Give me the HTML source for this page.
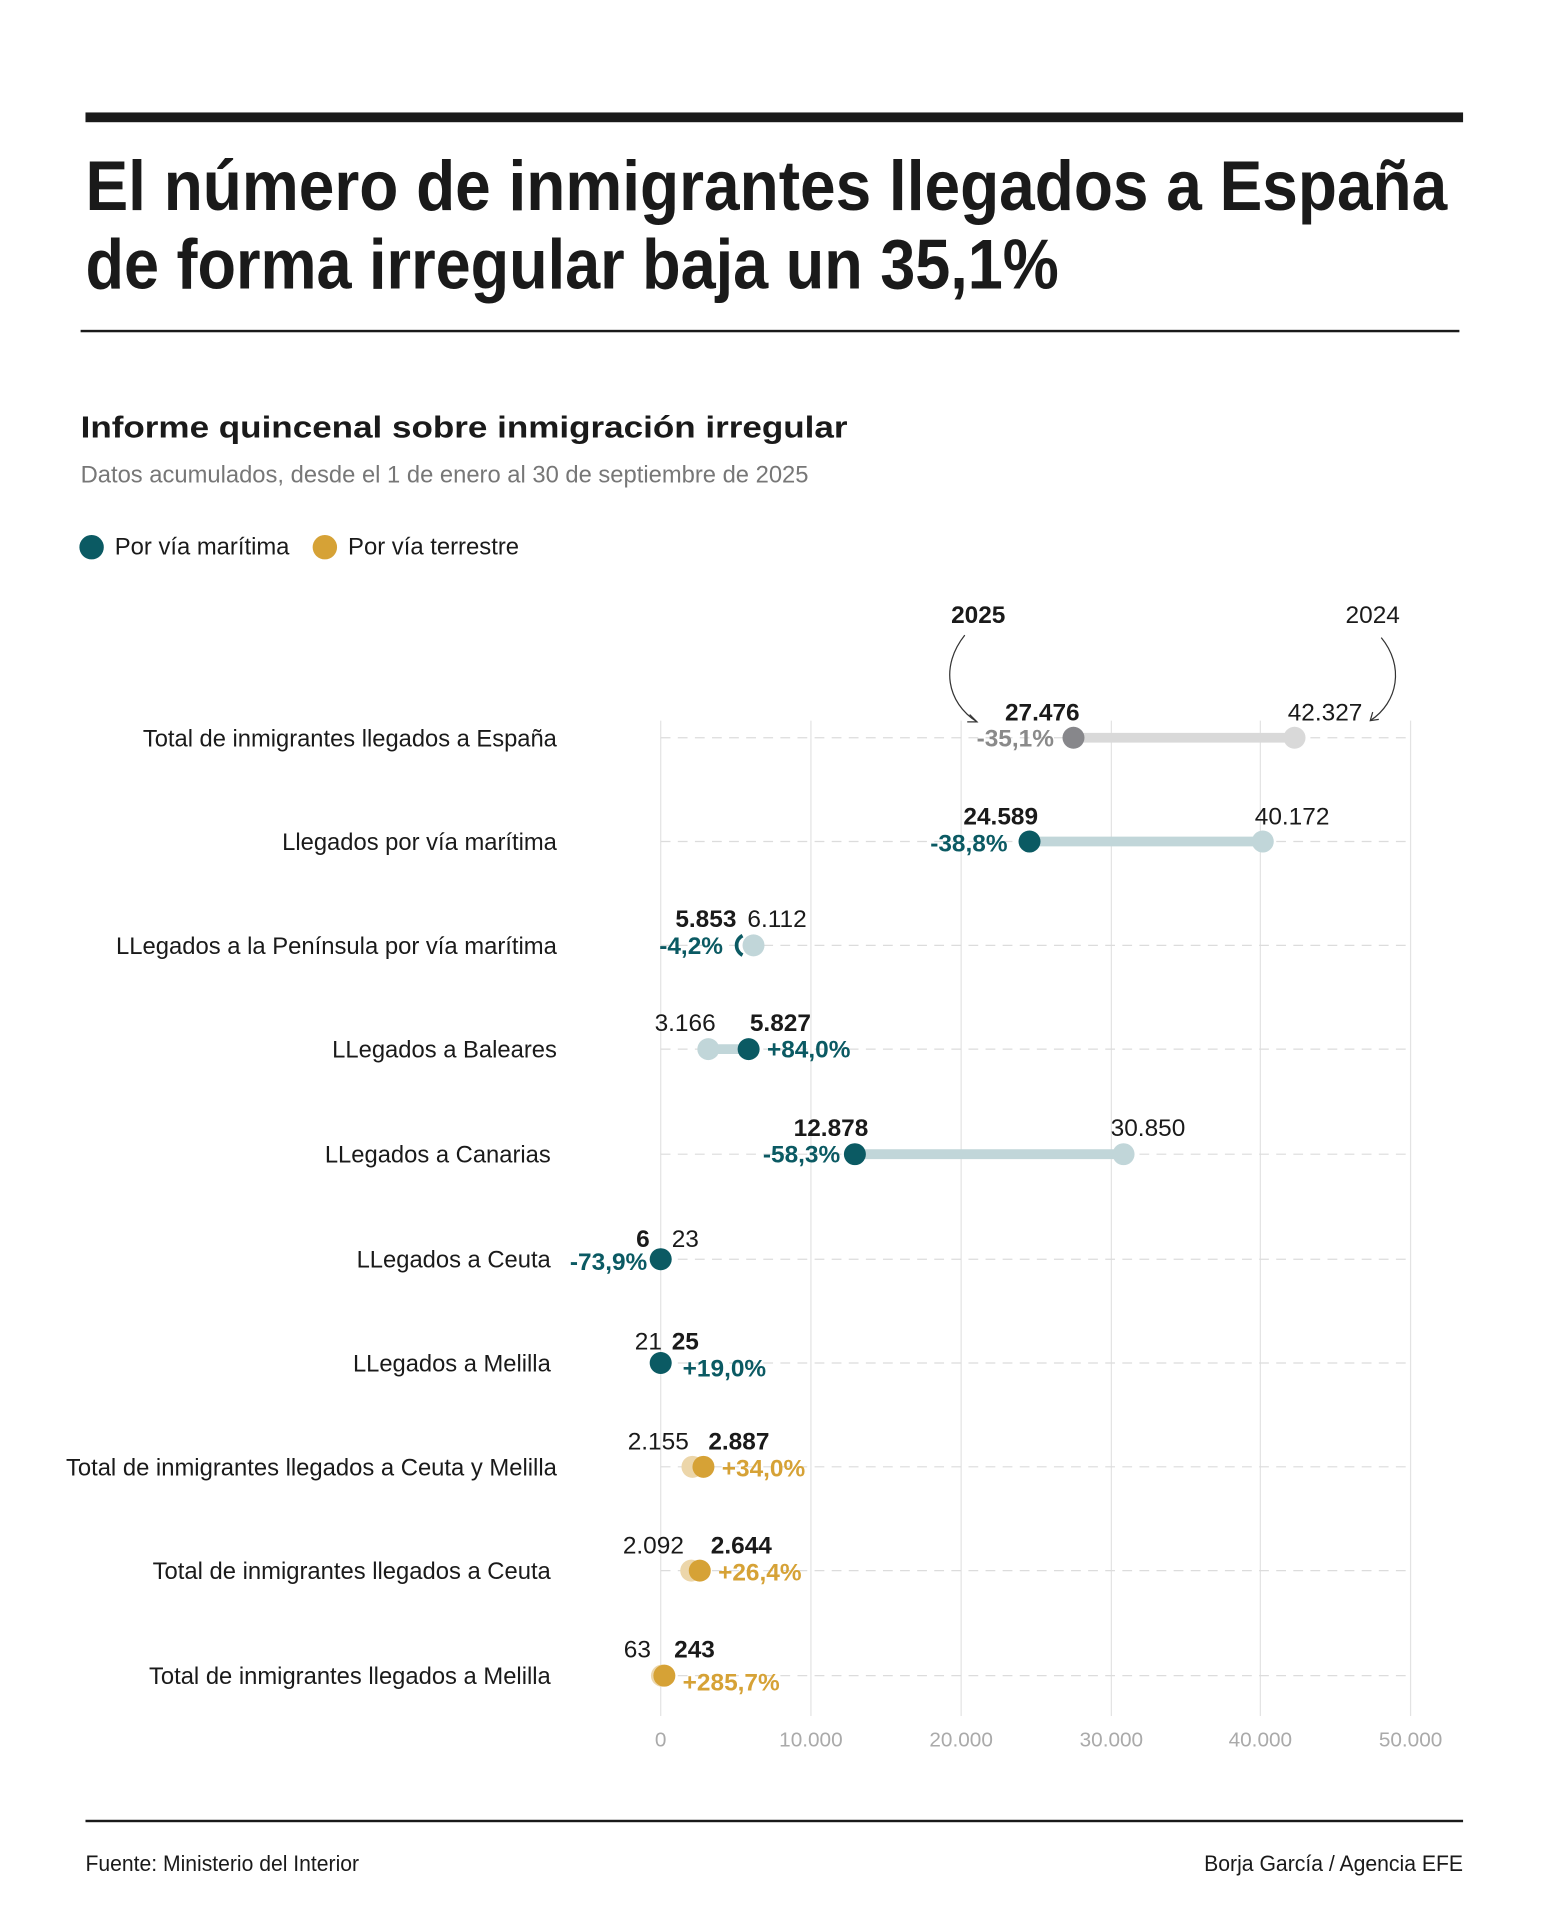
<!DOCTYPE html>
<html><head><meta charset="utf-8"><style>html,body{margin:0;padding:0;background:#fff}svg{display:block}</style></head>
<body>
<svg width="1551" height="1920" viewBox="0 0 1270 1572" xmlns="http://www.w3.org/2000/svg" font-family="Liberation Sans, Arial, sans-serif">
<rect width="1270" height="1572" fill="#fff"/>
<rect x="70" y="92" width="1128" height="8" fill="#1a1a1a"/>
<text x="70" y="172" font-size="58" font-weight="bold" fill="#1a1a1a" textLength="1115" lengthAdjust="spacingAndGlyphs">El número de inmigrantes llegados a España</text>
<text x="70" y="236" font-size="58" font-weight="bold" fill="#1a1a1a" textLength="797" lengthAdjust="spacingAndGlyphs">de forma irregular baja un 35,1%</text>
<rect x="66" y="270" width="1129" height="2" fill="#1a1a1a"/>
<text x="66" y="358" font-size="25" font-weight="bold" fill="#1a1a1a" textLength="628" lengthAdjust="spacingAndGlyphs">Informe quincenal sobre inmigración irregular</text>
<text x="66" y="395" font-size="20" fill="#777" textLength="596" lengthAdjust="spacingAndGlyphs">Datos acumulados, desde el 1 de enero al 30 de septiembre de 2025</text>
<circle cx="75" cy="448" r="10" fill="#0b5a63"/>
<text x="94" y="454" font-size="20" fill="#1a1a1a" textLength="143" lengthAdjust="spacingAndGlyphs">Por vía marítima</text>
<circle cx="266" cy="448" r="10" fill="#d6a236"/>
<text x="285" y="454" font-size="20" fill="#1a1a1a" textLength="140" lengthAdjust="spacingAndGlyphs">Por vía terrestre</text>

<g stroke="#e3e3e3" stroke-width="1">
<line x1="541" y1="590" x2="541" y2="1405"/><line x1="664" y1="590" x2="664" y2="1405"/><line x1="787" y1="590" x2="787" y2="1405"/><line x1="910" y1="590" x2="910" y2="1405"/><line x1="1032" y1="590" x2="1032" y2="1405"/><line x1="1155" y1="590" x2="1155" y2="1405"/>
</g>
<g stroke="#dcdcdc" stroke-width="1" stroke-dasharray="8,6">
<line x1="541" y1="604" x2="1155" y2="604"/><line x1="541" y1="689" x2="1155" y2="689"/><line x1="541" y1="774" x2="1155" y2="774"/><line x1="541" y1="859" x2="1155" y2="859"/><line x1="541" y1="945" x2="1155" y2="945"/><line x1="541" y1="1031" x2="1155" y2="1031"/><line x1="541" y1="1116" x2="1155" y2="1116"/><line x1="541" y1="1201" x2="1155" y2="1201"/><line x1="541" y1="1286" x2="1155" y2="1286"/><line x1="541" y1="1372" x2="1155" y2="1372"/>
</g>
<g font-size="17" fill="#aaa" text-anchor="middle">
<text x="541" y="1430">0</text><text x="664" y="1430">10.000</text><text x="787" y="1430">20.000</text><text x="910" y="1430">30.000</text><text x="1032" y="1430">40.000</text><text x="1155" y="1430">50.000</text>
</g>

<g font-size="20" fill="#1a1a1a" text-anchor="end">
<text x="456" y="611" textLength="339" lengthAdjust="spacingAndGlyphs">Total de inmigrantes llegados a España</text>
<text x="456" y="696" textLength="225" lengthAdjust="spacingAndGlyphs">Llegados por vía marítima</text>
<text x="456" y="781" textLength="361" lengthAdjust="spacingAndGlyphs">LLegados a la Península por vía marítima</text>
<text x="456" y="866" textLength="184" lengthAdjust="spacingAndGlyphs">LLegados a Baleares</text>
<text x="451" y="952" textLength="185" lengthAdjust="spacingAndGlyphs">LLegados a Canarias</text>
<text x="451" y="1038" textLength="159" lengthAdjust="spacingAndGlyphs">LLegados a Ceuta</text>
<text x="451" y="1123" textLength="162" lengthAdjust="spacingAndGlyphs">LLegados a Melilla</text>
<text x="456" y="1208" textLength="402" lengthAdjust="spacingAndGlyphs">Total de inmigrantes llegados a Ceuta y Melilla</text>
<text x="451" y="1293" textLength="326" lengthAdjust="spacingAndGlyphs">Total de inmigrantes llegados a Ceuta</text>
<text x="451" y="1379" textLength="329" lengthAdjust="spacingAndGlyphs">Total de inmigrantes llegados a Melilla</text>
</g>

<!-- bars -->
<g stroke-width="8">
<line x1="879" y1="604" x2="1060" y2="604" stroke="#d9d9d9"/>
<line x1="843" y1="689" x2="1034" y2="689" stroke="#c1d6d9"/>
<line x1="613" y1="774" x2="617" y2="774" stroke="#c1d6d9"/>
<line x1="580" y1="859" x2="613" y2="859" stroke="#c1d6d9"/>
<line x1="700" y1="945" x2="920" y2="945" stroke="#c1d6d9"/>
<line x1="565" y1="1201" x2="576" y2="1201" stroke="#ecd6aa"/>
<line x1="566" y1="1286" x2="573" y2="1286" stroke="#ecd6aa"/>
</g>
<!-- 2024 dots -->
<circle cx="1060" cy="604" r="9" fill="#d9d9d9"/>
<circle cx="1034" cy="689" r="9" fill="#c1d6d9"/>
<circle cx="617" cy="774" r="9" fill="#c1d6d9"/>
<circle cx="580" cy="859" r="9" fill="#c1d6d9"/>
<circle cx="920" cy="945" r="9" fill="#c1d6d9"/>
<circle cx="541" cy="1031" r="9" fill="#c1d6d9"/>
<circle cx="541" cy="1116" r="9" fill="#c1d6d9"/>
<circle cx="567" cy="1201" r="9" fill="#ecd6aa"/>
<circle cx="566" cy="1286" r="9" fill="#ecd6aa"/>
<circle cx="542" cy="1372" r="9" fill="#ecd6aa"/>
<!-- 2025 dots -->
<circle cx="879" cy="604" r="9" fill="#87878b"/>
<circle cx="843" cy="689" r="9" fill="#0b5a63"/>
<circle cx="613" cy="774" r="9" fill="#0b5a63" opacity="0"/>
<circle cx="613" cy="859" r="9" fill="#0b5a63"/>
<circle cx="700" cy="945" r="9" fill="#0b5a63"/>
<circle cx="541" cy="1031" r="9" fill="#0b5a63"/>
<circle cx="541" cy="1116" r="9" fill="#0b5a63"/>
<circle cx="576" cy="1201" r="9" fill="#d6a236"/>
<circle cx="573" cy="1286" r="9" fill="#d6a236"/>
<circle cx="544" cy="1372" r="9" fill="#d6a236"/>
<path d="M608 766 A9 9 0 0 0 608 782" stroke="#0b5a63" stroke-width="3" fill="none"/>

<!-- annotations -->
<text x="801" y="510" font-size="20" font-weight="bold" text-anchor="middle" fill="#1a1a1a">2025</text>
<text x="1124" y="510" font-size="20" text-anchor="middle" fill="#1a1a1a">2024</text>
<path d="M790 520 C770 545 775 575 800 591" stroke="#333" stroke-width="1" fill="none"/>
<path d="M794 585 L800 591 L792 591" stroke="#333" stroke-width="1" fill="none"/>
<path d="M1131 522 C1150 545 1145 575 1122 590" stroke="#333" stroke-width="1" fill="none"/>
<path d="M1124 583 L1122 590 L1129 589" stroke="#333" stroke-width="1" fill="none"/>

<g font-size="20" fill="#1a1a1a">
<text x="884" y="590" font-weight="bold" text-anchor="end">27.476</text>
<text x="863" y="611" font-weight="bold" text-anchor="end" fill="#8a8a8a">-35,1%</text>
<text x="1085" y="590" text-anchor="middle">42.327</text>
<text x="850" y="675" font-weight="bold" text-anchor="end">24.589</text>
<text x="825" y="697" font-weight="bold" text-anchor="end" fill="#0b5a63">-38,8%</text>
<text x="1058" y="675" text-anchor="middle">40.172</text>
<text x="603" y="759" font-weight="bold" text-anchor="end">5.853</text>
<text x="592" y="781" font-weight="bold" text-anchor="end" fill="#0b5a63">-4,2%</text>
<text x="612" y="759">6.112</text>
<text x="561" y="844" text-anchor="middle">3.166</text>
<text x="614" y="844" font-weight="bold">5.827</text>
<text x="628" y="866" font-weight="bold" fill="#0b5a63">+84,0%</text>
<text x="711" y="930" font-weight="bold" text-anchor="end">12.878</text>
<text x="688" y="952" font-weight="bold" text-anchor="end" fill="#0b5a63">-58,3%</text>
<text x="940" y="930" text-anchor="middle">30.850</text>
<text x="532" y="1021" font-weight="bold" text-anchor="end">6</text>
<text x="550" y="1021">23</text>
<text x="530" y="1040" font-weight="bold" text-anchor="end" fill="#0b5a63">-73,9%</text>
<text x="542" y="1105" text-anchor="end">21</text>
<text x="550" y="1105" font-weight="bold">25</text>
<text x="559" y="1127" font-weight="bold" fill="#0b5a63">+19,0%</text>
<text x="564" y="1187" text-anchor="end">2.155</text>
<text x="580" y="1187" font-weight="bold">2.887</text>
<text x="591" y="1209" font-weight="bold" fill="#d6a236">+34,0%</text>
<text x="560" y="1272" text-anchor="end">2.092</text>
<text x="582" y="1272" font-weight="bold">2.644</text>
<text x="588" y="1294" font-weight="bold" fill="#d6a236">+26,4%</text>
<text x="533" y="1357" text-anchor="end">63</text>
<text x="552" y="1357" font-weight="bold">243</text>
<text x="559" y="1384" font-weight="bold" fill="#d6a236">+285,7%</text>
</g>

<rect x="70" y="1490" width="1128" height="2" fill="#1a1a1a"/>
<text x="70" y="1532" font-size="18" fill="#1a1a1a" textLength="224" lengthAdjust="spacingAndGlyphs">Fuente: Ministerio del Interior</text>
<text x="1198" y="1532" font-size="18" fill="#1a1a1a" text-anchor="end" textLength="212" lengthAdjust="spacingAndGlyphs">Borja García / Agencia EFE</text>
</svg>
</body></html>
